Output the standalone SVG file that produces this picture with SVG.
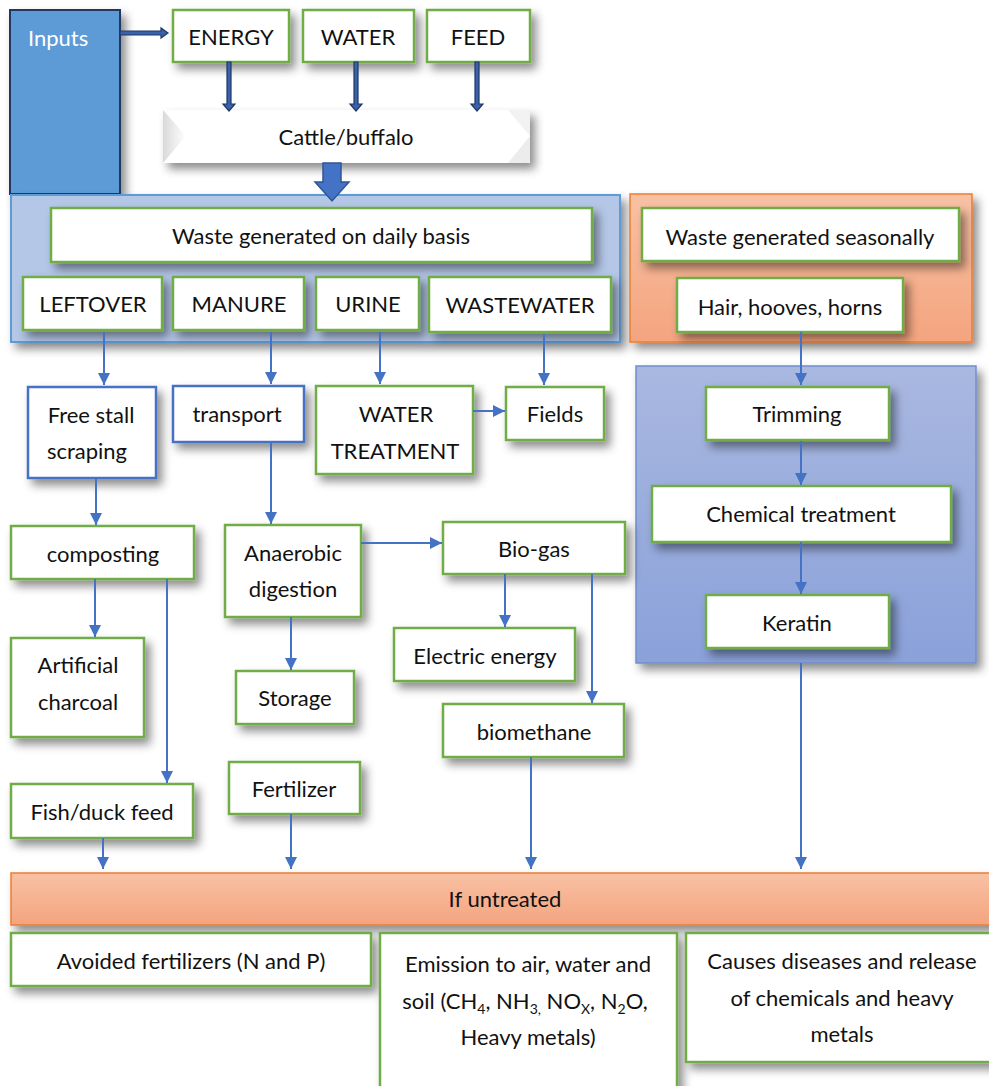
<svg xmlns="http://www.w3.org/2000/svg" width="989" height="1086" viewBox="0 0 989 1086">
  <defs>
    <style>
      .lbl { font-family: Lato, "Liberation Sans", sans-serif; font-size: 22px; fill: #111; text-anchor: middle; }
      .box { fill: #fff; stroke: #70ad47; stroke-width: 2.5; filter: url(#shadow); }
      .bbox { fill: #fff; stroke: #4472c4; stroke-width: 2.5; filter: url(#shadow); }
      .conn { stroke: #4472c4; stroke-width: 2; fill: none; marker-end: url(#tip); }
      .darr { fill: #3a62aa; stroke: #1f3864; stroke-width: 1.2; }
    </style>
    <filter id="shadow" x="-20%" y="-20%" width="150%" height="160%">
      <feDropShadow dx="5" dy="6" stdDeviation="5" flood-color="#000" flood-opacity="0.45"/>
    </filter>
    <marker id="tip" viewBox="0 0 10 10" refX="10" refY="5" markerWidth="6" markerHeight="6" markerUnits="strokeWidth" orient="auto">
      <path d="M0,0 L10,5 L0,10 z" fill="#4472c4"/>
    </marker>
    <linearGradient id="orange" x1="0" y1="0" x2="0" y2="1">
      <stop offset="0" stop-color="#f8c1a4"/>
      <stop offset="1" stop-color="#f4a47f"/>
    </linearGradient>
    <linearGradient id="blue" x1="0" y1="0" x2="0" y2="1">
      <stop offset="0" stop-color="#a9b8e0"/>
      <stop offset="1" stop-color="#8aa1d9"/>
    </linearGradient>
    <linearGradient id="cattleEdge" x1="0" y1="0" x2="1" y2="0">
      <stop offset="0" stop-color="#d9d9d9"/>
      <stop offset="1" stop-color="#ffffff"/>
    </linearGradient>
  </defs>

  <rect width="989" height="1086" fill="#ffffff"/>

  <!-- Inputs column -->
  <g id="inputs">
    <rect x="10" y="10" width="110" height="184" fill="#5b9bd5" stroke="#203864" stroke-width="2" filter="url(#shadow)"/>
    <text x="28" y="46" style="font-family: Lato, 'Liberation Sans', sans-serif; font-size: 22px; fill: #fff;">Inputs</text>
  </g>

  <g id="energy">
    <rect class="box" x="173" y="10" width="116" height="52"/>
    <text class="lbl" x="231" y="45">ENERGY</text>
  </g>
  <g id="water">
    <rect class="box" x="303" y="10" width="111" height="52"/>
    <text class="lbl" x="358" y="45">WATER</text>
  </g>
  <g id="feed">
    <rect class="box" x="427" y="10" width="103" height="52"/>
    <text class="lbl" x="478" y="45">FEED</text>
  </g>

  <g id="cattle">
    <rect x="163" y="110" width="367" height="53" fill="#fff" filter="url(#shadow)"/>
    <polygon points="163,110 186,136 163,163" fill="url(#cattleEdge)"/>
    <polygon points="508,110 530,136 530,110" fill="#f2f2f2"/>
    <polygon points="508,163 530,136 530,163" fill="#ececec"/>
    <text class="lbl" x="346" y="145">Cattle/buffalo</text>
  </g>

  <!-- Daily waste group -->
  <g id="daily">
    <rect x="11" y="195" width="609" height="147" fill="#b4c7e7" stroke="#5b9bd5" stroke-width="2" filter="url(#shadow)"/>
    <rect class="box" x="51" y="208" width="541" height="54"/>
    <text class="lbl" x="321" y="244">Waste generated on daily basis</text>
  </g>
  <g id="leftover">
    <rect class="box" x="23" y="277" width="139" height="53"/>
    <text class="lbl" x="93" y="312">LEFTOVER</text>
  </g>
  <g id="manure">
    <rect class="box" x="173" y="277" width="131" height="53"/>
    <text class="lbl" x="239" y="312">MANURE</text>
  </g>
  <g id="urine">
    <rect class="box" x="316" y="277" width="103" height="53"/>
    <text class="lbl" x="368" y="312">URINE</text>
  </g>
  <g id="wastewater">
    <rect class="box" x="429" y="277" width="182" height="55"/>
    <text class="lbl" x="520" y="313">WASTEWATER</text>
  </g>

  <!-- Seasonal waste group -->
  <g id="seasonal">
    <rect x="630" y="194" width="342" height="148" fill="url(#orange)" stroke="#ed7d31" stroke-width="1.5" filter="url(#shadow)"/>
    <rect class="box" x="642" y="208" width="317" height="53"/>
    <text class="lbl" x="800" y="245">Waste generated seasonally</text>
  </g>
  <g id="hair">
    <rect class="box" x="677" y="278" width="226" height="54"/>
    <text class="lbl" x="790" y="315">Hair, hooves, horns</text>
  </g>

  <g id="keratin-process">
    <rect x="636" y="366" width="340" height="297" fill="url(#blue)" stroke="#6f8fd0" stroke-width="1.5" filter="url(#shadow)"/>
  </g>
  <g id="trimming">
    <rect class="box" x="706" y="387" width="183" height="53"/>
    <text class="lbl" x="797" y="422">Trimming</text>
  </g>
  <g id="chemical">
    <rect class="box" x="652" y="486" width="299" height="56"/>
    <text class="lbl" x="801" y="522">Chemical treatment</text>
  </g>
  <g id="keratin">
    <rect class="box" x="706" y="595" width="183" height="53"/>
    <text class="lbl" x="797" y="631">Keratin</text>
  </g>

  <!-- Treatment stage -->
  <g id="freestall">
    <rect class="bbox" x="28" y="387" width="128" height="91"/>
    <text class="lbl" x="91" y="423">Free stall</text>
    <text class="lbl" x="87" y="459">scraping</text>
  </g>
  <g id="transport">
    <rect class="bbox" x="173" y="386" width="131" height="56"/>
    <text class="lbl" x="237" y="422">transport</text>
  </g>
  <g id="watertreatment">
    <rect class="box" x="316" y="386" width="157" height="88"/>
    <text class="lbl" x="396" y="422">WATER</text>
    <text class="lbl" x="395" y="459">TREATMENT</text>
  </g>
  <g id="fields">
    <rect class="box" x="506" y="387" width="98" height="53"/>
    <text class="lbl" x="555" y="422">Fields</text>
  </g>
  <g id="composting">
    <rect class="box" x="11" y="526" width="183" height="53"/>
    <text class="lbl" x="103" y="562">composting</text>
  </g>
  <g id="anaerobic">
    <rect class="box" x="225" y="525" width="136" height="92"/>
    <text class="lbl" x="293" y="561">Anaerobic</text>
    <text class="lbl" x="293" y="597">digestion</text>
  </g>
  <g id="biogas">
    <rect class="box" x="443" y="522" width="182" height="52"/>
    <text class="lbl" x="534" y="557">Bio-gas</text>
  </g>
  <g id="charcoal">
    <rect class="box" x="11" y="638" width="133" height="99"/>
    <text class="lbl" x="78" y="673">Artificial</text>
    <text class="lbl" x="78" y="710">charcoal</text>
  </g>
  <g id="storage">
    <rect class="box" x="236" y="671" width="118" height="53"/>
    <text class="lbl" x="295" y="706">Storage</text>
  </g>
  <g id="electric">
    <rect class="box" x="394" y="628" width="181" height="53"/>
    <text class="lbl" x="485" y="664">Electric energy</text>
  </g>
  <g id="biomethane">
    <rect class="box" x="443" y="704" width="181" height="53"/>
    <text class="lbl" x="534" y="740">biomethane</text>
  </g>
  <g id="fishfeed">
    <rect class="box" x="11" y="784" width="182" height="54"/>
    <text class="lbl" x="102" y="820">Fish/duck feed</text>
  </g>
  <g id="fertilizer">
    <rect class="box" x="229" y="762" width="131" height="52"/>
    <text class="lbl" x="294" y="797">Fertilizer</text>
  </g>

  <!-- Outcomes -->
  <g id="untreated">
    <rect x="11" y="873" width="990" height="52" fill="url(#orange)" stroke="#ed7d31" stroke-width="1.5" filter="url(#shadow)"/>
    <text class="lbl" x="505" y="907">If untreated</text>
  </g>
  <g id="avoided">
    <rect class="box" x="11" y="933" width="360" height="53"/>
    <text class="lbl" x="191" y="969">Avoided fertilizers (N and P)</text>
  </g>
  <g id="emission">
    <rect class="box" x="380" y="933" width="297" height="160"/>
    <text class="lbl" x="528" y="972">Emission to air, water and</text>
    <text class="lbl" x="525" y="1009">soil (CH<tspan font-size="14" dy="5">4</tspan><tspan dy="-5">, NH</tspan><tspan font-size="14" dy="5">3,</tspan><tspan dy="-5"> NO</tspan><tspan font-size="14" dy="5">X</tspan><tspan dy="-5">, N</tspan><tspan font-size="14" dy="5">2</tspan><tspan dy="-5">O,</tspan></text>
    <text class="lbl" x="528" y="1045">Heavy metals)</text>
  </g>
  <g id="causes">
    <rect class="box" x="686" y="933" width="315" height="129"/>
    <text class="lbl" x="842" y="969">Causes diseases and release</text>
    <text class="lbl" x="842" y="1006">of chemicals and heavy</text>
    <text class="lbl" x="842" y="1042">metals</text>
  </g>

  <!-- Connectors -->
  <g id="connectors">
    <!-- supply arrows -->
    <polygon class="darr" points="120,31 161,31 161,28 168,33 161,38 161,35 120,35"/>
    <polygon class="darr" points="227,62 231,62 231,104 235,104 229,111 223,104 227,104"/>
    <polygon class="darr" points="354,62 358,62 358,104 362,104 356,111 350,104 354,104"/>
    <polygon class="darr" points="475,62 479,62 479,104 483,104 477,111 471,104 475,104"/>
    <polygon points="323,163 341,163 341,182 349,182 332,201 315,182 323,182" fill="#4472c4" stroke="#2f5597" stroke-width="1.5"/>

    <line class="conn" x1="104" y1="332" x2="104" y2="385"/>
    <line class="conn" x1="271" y1="332" x2="271" y2="384"/>
    <line class="conn" x1="380" y1="332" x2="380" y2="384"/>
    <line class="conn" x1="544" y1="334" x2="544" y2="385"/>
    <line class="conn" x1="801" y1="332" x2="801" y2="385"/>

    <line class="conn" x1="473" y1="411" x2="505" y2="411"/>
    <line class="conn" x1="96" y1="478" x2="96" y2="525"/>
    <line class="conn" x1="271" y1="442" x2="271" y2="524"/>
    <line class="conn" x1="361" y1="543" x2="442" y2="543"/>

    <line class="conn" x1="801" y1="441" x2="801" y2="485"/>
    <line class="conn" x1="801" y1="542" x2="801" y2="594"/>

    <line class="conn" x1="95" y1="579" x2="95" y2="637"/>
    <line class="conn" x1="167" y1="579" x2="167" y2="783"/>
    <line class="conn" x1="291" y1="617" x2="291" y2="670"/>
    <line class="conn" x1="505" y1="574" x2="505" y2="627"/>
    <line class="conn" x1="592" y1="574" x2="592" y2="703"/>

    <line class="conn" x1="103" y1="838" x2="103" y2="869"/>
    <line class="conn" x1="291" y1="814" x2="291" y2="869"/>
    <line class="conn" x1="531" y1="757" x2="531" y2="869"/>
    <line class="conn" x1="801" y1="663" x2="801" y2="869"/>
  </g>
</svg>
